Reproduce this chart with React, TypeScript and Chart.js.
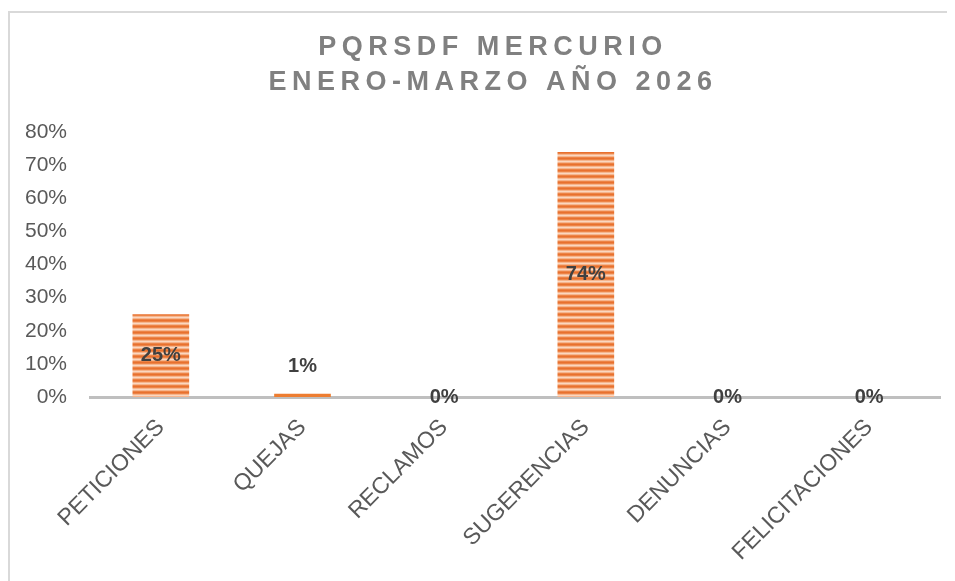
import React, { useEffect, useRef } from "react";
import { Chart, registerables } from "chart.js";

Chart.register(...registerables);

const titleLines = ["PQRSDF MERCURIO", "ENERO-MARZO AÑO 2026"];
const categories = ["PETICIONES", "QUEJAS", "RECLAMOS", "SUGERENCIAS", "DENUNCIAS", "FELICITACIONES"];
const values = [0.25, 0.01, 0, 0.74, 0, 0];
const yMin = 0;
const yMax = 0.8;
const yStep = 0.1;

function makePattern(ctx: CanvasRenderingContext2D) {
  const c = document.createElement("canvas");
  c.width = 8;
  c.height = 6;
  const p = c.getContext("2d")!;
  const rows = ["#E8702F", "#EC8446", "#F6B58E", "#FBD7BF", "#F6B58E", "#EC8446"];
  rows.forEach((col, i) => {
    p.fillStyle = col;
    p.fillRect(0, i, 8, 1);
  });
  return ctx.createPattern(c, "repeat")!;
}

const titlePlugin = {
  id: "customTitle",
  afterDraw(chart: any) {
    const ctx = chart.ctx as CanvasRenderingContext2D;
    ctx.save();
    ctx.font = "bold 27px 'Liberation Sans', Arial, sans-serif";
    (ctx as any).letterSpacing = "5.5px";
    ctx.fillStyle = "#808080";
    ctx.textAlign = "center";
    ctx.textBaseline = "middle";
    const cx = 485;
    titleLines.forEach((t, i) => ctx.fillText(t, cx, 40 + i * 35));
    ctx.restore();
  },
};

const labelPlugin = {
  id: "barLabels",
  afterDatasetsDraw(chart: any) {
    const ctx = chart.ctx as CanvasRenderingContext2D;
    const meta = chart.getDatasetMeta(0);
    ctx.save();
    ctx.font = "bold 20px 'Liberation Sans', Arial, sans-serif";
    ctx.fillStyle = "#404040";
    ctx.textAlign = "center";
    ctx.textBaseline = "middle";
    meta.data.forEach((el: any, i: number) => {
      const v = values[i];
      const h = el.base - el.y;
      let y = (el.y + el.base) / 2;
      if (v > 0 && h < 20) y = el.y - 27;
      ctx.fillText(Math.round(v * 100) + "%", el.x, y);
    });
    ctx.restore();
  },
};

export default function App() {
  const ref = useRef<HTMLCanvasElement>(null);
  useEffect(() => {
    const canvas = ref.current!;
    const ctx = canvas.getContext("2d")!;
    const pattern = makePattern(ctx);
    const chart = new Chart(canvas, {
      type: "bar",
      data: {
        labels: categories,
        datasets: [
          {
            data: values,
            backgroundColor: values.map((v) => (v < 0.05 ? "#ED7D31" : pattern)) as any,
            borderWidth: 0,
            categoryPercentage: 1,
            barPercentage: 0.4,
          },
        ],
      },
      options: {
        animation: false,
        responsive: true,
        maintainAspectRatio: false,
        layout: { padding: { top: 124, right: 15, left: 0, bottom: 0 } },
        plugins: { legend: { display: false }, title: { display: false }, tooltip: { enabled: false } },
        scales: {
          x: {
            grid: { display: false, drawTicks: false },
            border: { display: true, color: "#BFBFBF", width: 3 },
            ticks: {
              color: "#595959",
              font: { size: 23, family: "'Liberation Sans', Arial, sans-serif" },
              minRotation: 45,
              maxRotation: 45,
              autoSkip: false,
              padding: 17,
            },
            afterFit(scale: any) {
              scale.height = 184;
            },
          },
          y: {
            min: yMin,
            max: yMax,
            grid: { display: false, drawTicks: false },
            border: { display: false },
            ticks: {
              stepSize: yStep,
              color: "#595959",
              font: { size: 21, family: "'Liberation Sans', Arial, sans-serif" },
              padding: 23,
              callback: (v: any) => Math.round(Number(v) * 100) + "%",
            },
            afterFit(scale: any) {
              scale.width = 82;
            },
          },
        },
      },
      plugins: [titlePlugin, labelPlugin],
    });
    return () => chart.destroy();
  }, []);

  return (
    <div style={{ position: "relative", width: 947, height: 573, overflow: "hidden" }}>
      <div
        style={{
          position: "absolute",
          left: 0,
          top: 3,
          width: 1000,
          height: 1000,
          borderTop: "2px solid #D9D9D9",
          borderLeft: "2px solid #D9D9D9",
          pointerEvents: "none",
        }}
      />
      <canvas ref={ref} style={{ display: "block", position: "absolute", left: 0, top: 0 }} />
    </div>
  );
}
